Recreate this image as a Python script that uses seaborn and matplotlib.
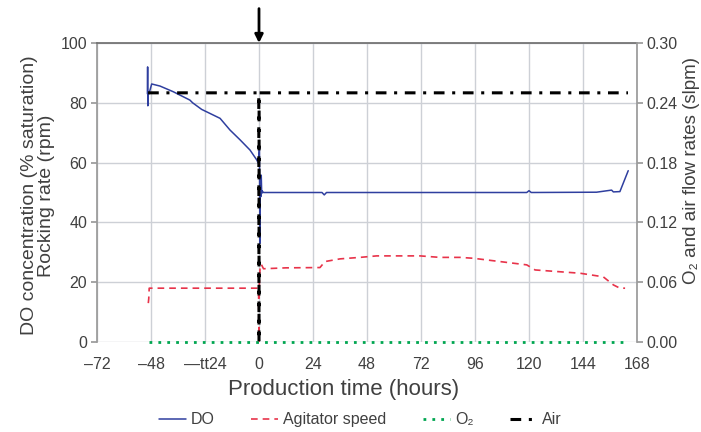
import matplotlib
matplotlib.use("Agg")
import matplotlib.pyplot as plt
import seaborn as sns
import pandas as pd
from matplotlib.lines import Line2D

# ---- data ----
do_t = [-49.6, -49.5, -49.4, -49.2, -48.9, -47.7, -44.0, -38.1, -30.7, -29.5, -25.5, -17.3, -12.9,
        -8.4, -4.0, -1.0, -0.3, 0.2, 0.4, 0.6, 0.8, 1.0, 1.2, 1.4, 2.0, 10, 28, 29, 30, 60, 100,
        119, 120, 121, 150, 156.7, 157.5, 160.4, 164.1]
do_v = [83, 92, 79, 83, 83, 86.3, 85.6, 83.7, 80.9, 80.0, 77.8, 74.8, 70.9,
        67.6, 64.2, 60.9, 59.8, 65, 33, 55, 48.6, 55.8, 49.7, 50.5, 50, 50, 50, 49.2, 50, 50, 50,
        50, 50.6, 50, 50.1, 50.8, 50.2, 50.3, 57.3]

ag_t = [-49.2, -49.0, -48.8, -30, -10, -0.2, 0.0, 0.1, 0.5, 1.0, 2.0, 12, 27.1, 29.3, 36, 44.9,
        52.3, 71.6, 80.4, 89.3, 95.3, 107.1, 119, 122.7, 142.7, 153, 157.5, 160.4, 162.7]
ag_v = [13, 14.5, 18, 18, 18, 18, 0, 18.5, 25.2, 26, 24.5, 24.8, 24.9, 26.9, 27.8, 28.3,
        28.8, 28.8, 28.3, 28.3, 28.0, 26.9, 25.8, 24.1, 23.0, 21.8, 19.1, 18.0, 18.0]

o2_t = [-49, 164]
o2_v = [0.0, 0.0]

air_t = [-49.3, -0.1, 0.0, 0.05, 164]
air_v = [0.25, 0.25, 0.0, 0.25, 0.25]

x_ticks = [-72, -48, -24, 0, 24, 48, 72, 96, 120, 144, 168]
x_labels = ["\u201372", "\u201348", "\u2014tt24", "0", "24", "48", "72", "96", "120", "144", "168"]
y_left_ticks = [0, 20, 40, 60, 80, 100]
y_right_ticks = [0.00, 0.06, 0.12, 0.18, 0.24, 0.30]

# ---- style ----
sns.set_theme(style="white")
plt.rcParams["font.family"] = ["Liberation Sans", "DejaVu Sans"]
txt = "#404040"

fig = plt.figure(figsize=(7.01, 4.32), dpi=100)
ax = fig.add_axes([97/701, 90/432, 540/701, 299/432])
ax2 = ax.twinx()

blue = "#2f3f9f"
red = "#e8334a"
green = "#00a650"
ag_ls = (0, (4, 3))
o2_ls = (0, (1, 2.2))
air_ls = (0, (3.5, 2.5, 1, 2.5))

df_do = pd.DataFrame({"t": do_t, "v": do_v})
df_ag = pd.DataFrame({"t": ag_t, "v": ag_v})
df_o2 = pd.DataFrame({"t": o2_t, "v": o2_v})
df_air = pd.DataFrame({"t": air_t, "v": air_v})

sns.lineplot(data=df_ag, x="t", y="v", ax=ax, sort=False, estimator=None, color=red,
             lw=1.2, linestyle=ag_ls, zorder=3)
sns.lineplot(data=df_do, x="t", y="v", ax=ax, sort=False, estimator=None, color=blue,
             lw=1.1, zorder=4)
sns.lineplot(data=df_o2, x="t", y="v", ax=ax2, sort=False, estimator=None, color=green,
             lw=2.0, linestyle=o2_ls, zorder=3, clip_on=False)
sns.lineplot(data=df_air, x="t", y="v", ax=ax2, sort=False, estimator=None, color="black",
             lw=2.2, linestyle=air_ls, zorder=5)

ax.set_xlim(-72, 168)
ax.set_ylim(0, 100)
ax2.set_ylim(0, 0.30)
ax.set_xticks(x_ticks)
ax.set_xticklabels(x_labels)
ax.set_yticks(y_left_ticks)
ax2.set_yticks(y_right_ticks)
ax2.set_yticklabels([f"{v:.2f}" for v in y_right_ticks])

ax.grid(True, color="#cdd0d6", lw=1.0)
ax.set_axisbelow(True)
ax2.grid(False)

for a in (ax, ax2):
    for s in a.spines.values():
        s.set_visible(False)
ax.spines["left"].set_visible(True)
ax.spines["left"].set_color("#9a9a9a")
ax2.spines["right"].set_visible(True)
ax2.spines["right"].set_color("#9a9a9a")
ax.spines["top"].set_visible(True)
ax.spines["top"].set_color("#707070")

ax.tick_params(axis="y", left=True, length=4, color="#9a9a9a", labelsize=11.5, labelcolor=txt, pad=3)
ax.tick_params(axis="x", bottom=False, labelsize=11.5, labelcolor=txt, pad=5)
ax2.tick_params(axis="y", right=True, length=4, color="#9a9a9a", labelsize=11.5, labelcolor=txt, pad=3)

ax.set_xlabel("Production time (hours)", fontsize=16, color=txt)
ax.xaxis.set_label_coords(0.457, -0.125)
ax.set_ylabel("DO concentration (% saturation)\nRocking rate (rpm)", fontsize=14, color=txt,
              linespacing=1.05)
ax.yaxis.set_label_coords(-0.077, 0.49)
ax2.set_ylabel("")
fig.text(691/701, 1 - 170/432, "O\u2082 and air flow rates (slpm)", rotation=90,
         ha="center", va="center", fontsize=13.5, color=txt)

# arrow marking time zero
ax.annotate("", xy=(0, 1.0), xycoords=("data", "axes fraction"),
            xytext=(0, 1.115), textcoords=("data", "axes fraction"),
            arrowprops=dict(arrowstyle="-|>", color="black", lw=2, mutation_scale=12,
                            shrinkA=0, shrinkB=0), annotation_clip=False)

handles = [
    Line2D([], [], color=blue, lw=1.1),
    Line2D([], [], color=red, lw=1.2, linestyle=ag_ls),
    Line2D([], [], color=green, lw=2.0, linestyle=o2_ls),
    Line2D([], [], color="black", lw=2.2, linestyle=air_ls),
]
labels = ["DO", "Agitator speed", "O\u2082", "Air"]
leg = fig.legend(handles, labels, loc="center", bbox_to_anchor=(0.514, 0.028), ncol=4,
                 frameon=False, fontsize=11.5, handlelength=1.7, columnspacing=2.3,
                 handletextpad=0.3)
for t in leg.get_texts():
    t.set_color(txt)

fig.savefig("out.png", dpi=100)
